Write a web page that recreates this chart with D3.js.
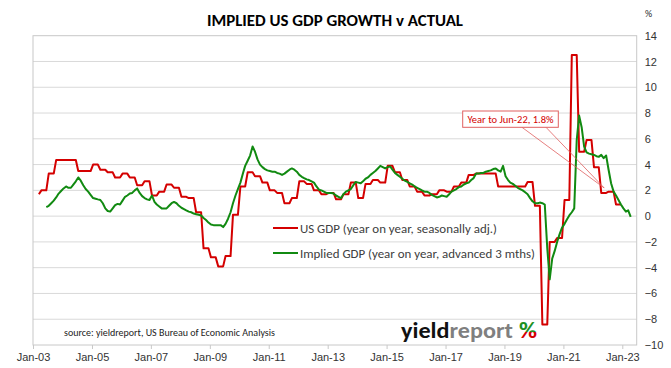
<!DOCTYPE html>
<html><head><meta charset="utf-8">
<script src="https://cdn.jsdelivr.net/npm/d3@7"></script>
<style>body{margin:0;background:#fff}svg{display:block;font-family:Carlito,Calibri,Lato,sans-serif}</style>
</head><body>
<svg id="c" width="671" height="368"></svg>
<script>
// ---- DATA ----
const title = "IMPLIED US GDP GROWTH v ACTUAL";
const seriesNames = ["US GDP (year on year, seasonally adj.)", "Implied GDP (year on year, advanced 3 mths)"];
const yTickValues = [-10,-8,-6,-4,-2,0,2,4,6,8,10,12,14];
const xTickYears = [2003,2005,2007,2009,2011,2013,2015,2017,2019,2021,2023];
// US GDP, year on year %, quarterly (2003 Q1 .. 2022 Q4), shown from Mar-03
const redStart = [2003, 2]; // year, month index of first plotted month
const usGdpQuarterly = [
  1.7,2.0,3.3,4.35,   // 2003
  4.35,4.35,3.5,3.5,  // 2004
  4.0,3.6,3.4,3.0,    // 2005
  3.3,3.0,2.4,2.7,    // 2006
  1.6,1.9,2.45,2.2,   // 2007
  1.5,1.4,0.3,-2.5,   // 2008
  -3.2,-3.9,-3.1,0.1, // 2009
  2.3,3.4,3.1,2.6,    // 2010
  2.0,1.8,1.0,1.4,    // 2011
  2.7,2.5,2.0,1.7,    // 2012
  1.8,1.3,1.7,2.6,    // 2013
  1.4,2.5,2.8,2.6,    // 2014
  3.9,3.4,2.8,2.3,    // 2015
  1.9,1.6,1.7,2.0,    // 2016
  1.9,2.3,2.6,3.2,    // 2017
  3.3,3.3,3.3,2.3,    // 2018
  2.3,2.3,2.3,2.65,   // 2019
  0.8,-8.4,-2.0,-1.7, // 2020
  1.25,12.5,5.0,5.9,  // 2021
  3.8,1.8,1.9,0.9     // 2022
];
// Implied GDP, monthly, from Jun-03 to Apr-23
const greenStart = [2003, 5];
const impliedGdpMonthly = [
  0.7,0.8,1.0,1.2,1.45,1.75,1.95,                      // 2003 (Jun-Dec)
  2.15,2.3,2.2,2.2,2.45,2.7,3.0,2.75,2.4,2.1,1.9,1.65, // 2004
  1.4,1.35,1.3,1.25,1.0,0.6,0.4,0.35,0.6,0.85,0.95,0.9, // 2005
  1.2,1.5,1.6,1.75,1.8,2.0,2.15,1.8,1.55,1.4,1.3,1.25, // 2006
  1.6,1.1,0.9,0.75,0.6,0.6,0.6,0.8,1.0,1.1,1.0,0.8,    // 2007
  0.65,0.55,0.45,0.35,0.3,0.2,0.15,0.1,0.05,-0.15,-0.3,-0.5, // 2008
  -0.65,-0.7,-0.7,-0.7,-0.7,-0.85,-0.6,-0.2,0.3,1.0,1.6,2.1, // 2009
  2.6,3.3,3.9,4.3,4.7,5.4,5.0,4.4,4.0,3.8,3.65,3.55,   // 2010
  3.5,3.45,3.45,3.35,3.3,3.2,3.3,3.45,3.6,3.7,3.6,3.45, // 2011
  3.2,3.05,2.95,2.85,2.8,2.7,2.6,2.3,2.05,2.0,1.9,1.8, // 2012
  1.8,1.8,1.75,1.6,1.5,1.4,1.7,1.9,2.0,2.1,2.4,2.65,   // 2013
  2.6,2.55,2.7,2.9,3.0,3.2,3.35,3.5,3.7,3.9,3.8,3.7,   // 2014
  3.8,3.85,3.6,3.35,3.2,3.05,2.9,2.75,2.65,2.55,2.45,2.3, // 2015
  2.2,2.1,2.0,1.9,1.9,1.8,1.65,1.55,1.45,1.5,1.6,1.55, // 2016
  1.5,1.7,1.9,2.0,2.1,2.25,2.3,2.45,2.55,2.6,2.8,2.95, // 2017
  3.3,3.3,3.35,3.35,3.45,3.5,3.55,3.65,3.7,3.55,3.45,3.9, // 2018
  3.1,2.8,2.6,2.5,2.35,2.2,2.1,2.0,1.85,1.7,1.4,1.15,  // 2019
  1.0,1.0,1.05,1.0,0.9,-2.5,-4.9,-3.3,-2.7,-2.0,-1.4,-0.9, // 2020
  -0.6,-0.25,0.05,0.3,0.6,5.9,7.8,6.9,5.4,4.95,4.85,4.8, // 2021
  4.75,4.65,4.6,4.75,4.5,4.7,3.6,2.55,1.9,1.6,1.25,0.9, // 2022
  0.6,0.35,0.45,-0.05                                   // 2023 (Jan-Apr)
];
const annotation = {text: "Year to Jun-22, 1.8%", year: 2022, month: 5, value: 1.8};
const sourceText = "source: yieldreport, US Bureau of Economic Analysis";

// ---- BUILD ----
const redData = [];
usGdpQuarterly.forEach((v, q) => {
  for (let k = 0; k < 3; k++) {
    const mi = q * 3 + k;
    if (mi >= redStart[1]) redData.push({date: new Date(redStart[0], mi, 15), v});
  }
});
const greenData = impliedGdpMonthly.map((v, i) => ({date: new Date(greenStart[0], greenStart[1] + i, 15), v}));

const svg = d3.select("#c");
svg.append("rect").attr("width", 671).attr("height", 368).attr("fill", "#fff");
const P = {l: 33, r: 636.7, t: 35.7, b: 345};
const x = d3.scaleTime().domain([new Date(2003,0,1), new Date(2023,0,1)]).range([33, 622.3]);
const y = d3.scaleLinear().domain([-10, 14]).range([P.b, P.t]);

// gridlines
svg.append("g").selectAll("line").data(yTickValues.filter(v => v > -10 && v < 14)).join("line")
  .attr("x1", P.l).attr("x2", P.r).attr("y1", d => y(d)).attr("y2", d => y(d))
  .attr("stroke", "#d9d9d9").attr("stroke-width", 1);
// border
svg.append("rect").attr("x", P.l).attr("y", P.t).attr("width", P.r - P.l).attr("height", P.b - P.t)
  .attr("fill", "none").attr("stroke", "#c8c8c8").attr("stroke-width", 1);

// right axis
const ya = svg.append("g").attr("transform", `translate(${P.r},0)`)
  .call(d3.axisRight(y).tickValues(yTickValues).tickSize(0).tickPadding(8).tickFormat(d3.format("d")));
ya.select(".domain").remove();
ya.selectAll("text").attr("font-size", 11).attr("fill", "#333").style("font-family", "inherit");
svg.append("text").attr("x", 645).attr("y", 17).attr("font-size", 10).attr("fill", "#333").text("%");

// bottom axis
const xa = svg.append("g").attr("transform", `translate(0,${P.b})`)
  .call(d3.axisBottom(x).tickValues(xTickYears.map(yr => new Date(yr, 0, 1))).tickSize(4).tickPadding(4)
    .tickFormat(d3.timeFormat("Jan-%y")));
xa.select(".domain").remove();
xa.selectAll("line").attr("stroke", "#c8c8c8");
xa.selectAll("text").attr("font-size", 11).attr("fill", "#333").style("font-family", "inherit");

// lines
const line = d3.line().x(d => x(d.date)).y(d => y(d.v));
svg.append("path").datum(redData).attr("d", line).attr("fill", "none").attr("stroke", "#d40000").attr("stroke-width", 2).attr("stroke-linejoin", "round");
svg.append("path").datum(greenData).attr("d", line).attr("fill", "none").attr("stroke", "#118a11").attr("stroke-width", 2).attr("stroke-linejoin", "round");

// title
svg.append("text").attr("x", 335).attr("y", 26).attr("text-anchor", "middle").attr("font-size", 16.5)
  .attr("font-weight", "bold").attr("fill", "#000").attr("textLength", 256).attr("lengthAdjust", "spacingAndGlyphs").text(title);

// legend
const lg = svg.append("g");
[["#d40000", 228, 197], ["#118a11", 253, 235]].forEach(([c, yy, tl], i) => {
  lg.append("line").attr("x1", 273).attr("x2", 298).attr("y1", yy).attr("y2", yy).attr("stroke", c).attr("stroke-width", 2);
  lg.append("text").attr("x", 300).attr("y", yy + 4.5).attr("font-size", 12.5).attr("fill", "#404040")
    .attr("textLength", tl).attr("lengthAdjust", "spacingAndGlyphs").text(seriesNames[i]);
});

// annotation callout
const ax = x(new Date(annotation.year, annotation.month, 15)), ay = y(annotation.value);
svg.append("path").attr("d", `M522,127.3 L${ax - 2},${ay - 5} L546,127.3`).attr("fill", "none").attr("stroke", "#e06060").attr("stroke-width", 0.8);
svg.append("rect").attr("x", 462.7).attr("y", 111).attr("width", 95.6).attr("height", 16.3).attr("fill", "#fff").attr("stroke", "#e06060").attr("stroke-width", 1);
svg.append("text").attr("x", 510.5).attr("y", 123).attr("text-anchor", "middle").attr("font-size", 11).attr("fill", "#d40000")
  .attr("textLength", 86).attr("lengthAdjust", "spacingAndGlyphs").text(annotation.text);

// source
svg.append("text").attr("x", 64).attr("y", 336).attr("font-size", 9.5).attr("fill", "#222")
  .attr("textLength", 211).attr("lengthAdjust", "spacingAndGlyphs").text(sourceText);

// logo
const defs = svg.append("defs");
const gr = defs.append("linearGradient").attr("id", "pc").attr("x1", 0).attr("y1", 0).attr("x2", 0).attr("y2", 1);
gr.append("stop").attr("offset", "0%").attr("stop-color", "#1f8f1f");
gr.append("stop").attr("offset", "55%").attr("stop-color", "#1f8f1f");
gr.append("stop").attr("offset", "56%").attr("stop-color", "#d40000");
gr.append("stop").attr("offset", "100%").attr("stop-color", "#d40000");
const logo = svg.append("text").attr("x", 401).attr("y", 338).attr("font-size", 22).attr("font-weight", "bold")
  .attr("textLength", 112).attr("lengthAdjust", "spacingAndGlyphs");
logo.append("tspan").attr("fill", "#111").text("yield");
logo.append("tspan").attr("fill", "#7f7f7f").text("report");
svg.append("text").attr("x", 519).attr("y", 338).attr("font-size", 22).attr("font-weight", "bold").attr("fill", "url(#pc)")
  .attr("textLength", 18).attr("lengthAdjust", "spacingAndGlyphs").text("%");
</script>
</body></html>
